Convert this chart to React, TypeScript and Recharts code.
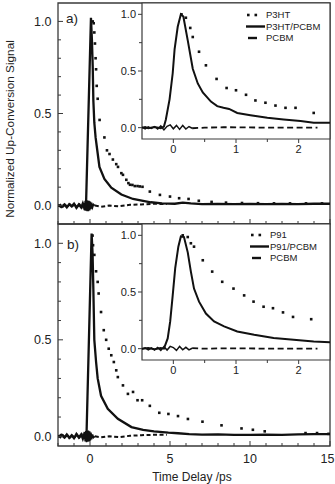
import React from 'react';
import { ComposedChart, Line, Scatter, XAxis, YAxis, ReferenceArea, CartesianGrid, Legend } from 'recharts';

type Pt = [number, number];

// ---- panel a): P3HT ----
const p3htMain: Pt[] = [
  [0.17, 1.0], [0.23, 0.99], [0.27, 0.94], [0.31, 0.88], [0.35, 0.8], [0.38, 0.74], [0.42, 0.65],
  [0.48, 0.58], [0.6, 0.465], [0.9, 0.37], [1.06, 0.3], [1.22, 0.28], [1.43, 0.25], [1.64, 0.225],
  [1.75, 0.21], [1.96, 0.176], [2.06, 0.167], [2.27, 0.14], [2.4, 0.122], [2.5, 0.113], [2.65, 0.112],
  [2.8, 0.106], [2.97, 0.106], [3.11, 0.104], [3.28, 0.102], [3.74, 0.076], [4.37, 0.058], [5.0, 0.049],
  [5.57, 0.04], [6.16, 0.036], [6.8, 0.026], [7.6, 0.02], [8.5, 0.016], [9.5, 0.014], [10.5, 0.013],
  [11.5, 0.012], [12.5, 0.012], [13.5, 0.012], [14.5, 0.012],
];
const p3htPcbmMain: Pt[] = [
  [-2, 0.004], [-1.8, -0.008], [-1.6, 0.006], [-1.45, -0.01], [-1.3, 0.008], [-1.15, -0.004], [-1.0, 0.01],
  [-0.85, -0.012], [-0.7, 0.006], [-0.55, -0.01], [-0.45, 0.012], [-0.35, -0.015], [-0.25, 0.0],
  [0.06, 1.02], [0.12, 0.9], [0.17, 0.755], [0.21, 0.57], [0.27, 0.45], [0.35, 0.37], [0.44, 0.31],
  [0.59, 0.21], [0.9, 0.145], [1.33, 0.097], [1.96, 0.06], [2.69, 0.036], [3.32, 0.026], [3.8, 0.018],
  [4.5, 0.012], [5.3, 0.01], [5.8, 0.016], [6.3, 0.012], [7, 0.008], [8, 0.009], [9, 0.008], [10, 0.009],
  [11, 0.008], [12, 0.009], [13, 0.008], [14, 0.01], [15, 0.01],
];
const pcbmMainA: Pt[] = [
  [-2, -0.004], [-1.85, 0.006], [-1.7, -0.008], [-1.55, 0.005], [-1.4, -0.006], [-1.25, 0.008], [-1.1, -0.005],
  [-0.95, 0.006], [-0.8, -0.009], [-0.65, 0.008], [-0.5, -0.01], [-0.4, 0.014], [-0.34, -0.022],
  [-0.3, 0.026], [-0.26, -0.028], [-0.22, 0.03], [-0.18, -0.03], [-0.14, 0.028], [-0.1, -0.03],
  [-0.06, 0.026], [-0.02, -0.026], [0.02, 0.022], [0.06, -0.02], [0.1, 0.016], [0.16, -0.01],
  [0.22, 0.006], [0.3, 0.0], [0.7, -0.006], [1.2, 0.0], [1.8, -0.004], [2.5, 0.004], [3.2, 0.006],
  [4.0, 0.01], [4.8, 0.008],
];
const p3htInset: Pt[] = [
  [0.13, 1.0], [0.2, 0.97], [0.27, 0.88], [0.31, 0.8], [0.41, 0.67], [0.52, 0.55], [0.69, 0.43],
  [0.85, 0.35], [1.0, 0.33], [1.16, 0.29], [1.31, 0.24], [1.47, 0.22], [1.63, 0.195], [1.79, 0.175],
  [1.95, 0.175], [2.24, 0.13],
];
const p3htPcbmInset: Pt[] = [
  [-0.5, 0.0], [-0.45, 0.005], [-0.4, -0.005], [-0.3, 0.005], [-0.2, -0.005], [-0.15, 0.01],
  [-0.12, 0.07], [-0.06, 0.25], [-0.01, 0.48], [0.02, 0.69], [0.07, 0.89], [0.12, 1.0], [0.16, 0.98],
  [0.23, 0.77], [0.31, 0.52], [0.39, 0.39], [0.47, 0.31], [0.6, 0.23], [0.7, 0.19], [0.8, 0.175],
  [0.89, 0.165], [1.02, 0.13], [1.23, 0.11], [1.5, 0.087], [1.76, 0.073], [2.03, 0.058], [2.24, 0.044],
  [2.5, 0.044],
];
const pcbmInsetA: Pt[] = [
  [-0.5, 0.005], [-0.45, -0.01], [-0.4, 0.008], [-0.35, -0.006], [-0.3, 0.01], [-0.25, -0.012],
  [-0.2, 0.015], [-0.15, -0.02], [-0.1, 0.012], [-0.05, 0.025], [0, -0.01], [0.05, 0.02], [0.1, -0.015],
  [0.15, 0.02], [0.2, -0.012], [0.25, 0.01], [0.3, -0.005], [0.5, 0.0], [0.8, 0.004], [1.2, 0.002],
  [1.6, 0.0], [2.0, 0.0], [2.3, 0.0],
];

// ---- panel b): P91 ----
const p91Main: Pt[] = [
  [0.16, 1.04], [0.19, 0.99], [0.27, 0.94], [0.38, 0.855], [0.48, 0.8], [0.54, 0.74], [0.69, 0.644],
  [0.86, 0.55], [1.01, 0.5], [1.17, 0.454], [1.33, 0.42], [1.49, 0.385], [1.64, 0.342], [1.74, 0.307],
  [2.06, 0.264], [2.37, 0.22], [2.69, 0.23], [2.97, 0.187], [3.26, 0.187], [3.74, 0.158], [4.33, 0.122],
  [4.9, 0.116], [5.5, 0.105], [6.12, 0.09], [7.03, 0.076], [8.22, 0.057], [9.47, 0.041], [10.18, 0.034],
  [10.92, 0.026], [13.47, 0.017], [14.19, 0.017], [14.91, 0.013],
];
const p91PcbmMain: Pt[] = [
  [-2, -0.004], [-1.8, 0.008], [-1.6, -0.006], [-1.45, 0.01], [-1.3, -0.008], [-1.15, 0.006], [-1.0, -0.01],
  [-0.85, 0.012], [-0.7, -0.006], [-0.55, 0.01], [-0.45, -0.012], [-0.35, 0.014], [-0.22, 0.0],
  [0.1, 1.05], [0.16, 0.95], [0.21, 0.76], [0.27, 0.5], [0.38, 0.385], [0.48, 0.3], [0.69, 0.21],
  [1.11, 0.143], [1.74, 0.091], [2.59, 0.048], [3.32, 0.033], [4.0, 0.026], [4.9, 0.019], [5.5, 0.016],
  [6.2, 0.012], [7, 0.009], [8, 0.01], [9, 0.008], [10, 0.008], [11, 0.009], [12, 0.008], [13, 0.01],
  [14, 0.011], [15, 0.012],
];
const pcbmMainB: Pt[] = [
  [-2, 0.005], [-1.85, -0.006], [-1.7, 0.008], [-1.55, -0.005], [-1.4, 0.006], [-1.25, -0.008], [-1.1, 0.005],
  [-0.95, -0.006], [-0.8, 0.009], [-0.65, -0.008], [-0.5, 0.01], [-0.4, -0.014], [-0.34, 0.022],
  [-0.3, -0.026], [-0.26, 0.028], [-0.22, -0.03], [-0.18, 0.03], [-0.14, -0.028], [-0.1, 0.03],
  [-0.06, -0.026], [-0.02, 0.026], [0.02, -0.022], [0.06, 0.02], [0.1, -0.016], [0.16, 0.01],
  [0.22, -0.006], [0.3, 0.0], [0.7, -0.005], [1.2, 0.0], [1.8, -0.004], [2.5, 0.003], [3.2, 0.006],
  [4.0, 0.008], [4.8, 0.008],
];
const p91Inset: Pt[] = [
  [0.15, 1.0], [0.23, 0.985], [0.28, 0.93], [0.33, 0.9], [0.47, 0.78], [0.62, 0.68], [0.78, 0.59],
  [0.96, 0.53], [1.13, 0.47], [1.28, 0.415], [1.44, 0.37], [1.59, 0.357], [1.75, 0.32], [1.91, 0.28],
  [2.2, 0.26],
];
const p91PcbmInset: Pt[] = [
  [-0.5, 0.0], [-0.4, 0.005], [-0.3, -0.005], [-0.2, 0.005], [-0.15, 0.0], [-0.09, 0.09], [-0.05, 0.24],
  [-0.01, 0.47], [0.03, 0.71], [0.08, 0.9], [0.12, 0.99], [0.17, 0.985], [0.23, 0.85], [0.28, 0.68],
  [0.33, 0.53], [0.41, 0.415], [0.52, 0.31], [0.65, 0.24], [0.81, 0.196], [1.02, 0.152], [1.29, 0.123],
  [1.6, 0.094], [1.92, 0.079], [2.24, 0.064], [2.5, 0.056],
];
const pcbmInsetB: Pt[] = [
  [-0.5, -0.004], [-0.45, 0.008], [-0.4, -0.01], [-0.35, 0.006], [-0.3, -0.012], [-0.25, 0.01],
  [-0.2, -0.015], [-0.15, 0.018], [-0.1, -0.012], [-0.05, 0.02], [0, 0.01], [0.05, -0.015], [0.1, 0.02],
  [0.15, -0.01], [0.2, 0.012], [0.25, -0.01], [0.3, 0.004], [0.5, 0.0], [0.8, 0.003], [1.2, 0.002],
  [1.6, 0.0], [2.0, 0.0], [2.3, 0.0],
];

// axis ticks
const mainTimeTicks = [-2, -1, 0, 1, 2, 3, 4, 5, 6, 7, 8, 9, 10, 11, 12, 13, 14, 15];
const mainTimeLabels = [0, 5, 10, 15];
const signalTicks = [0, 0.1, 0.2, 0.3, 0.4, 0.5, 0.6, 0.7, 0.8, 0.9, 1.0];
const signalLabels = [0, 0.5, 1.0];
const insetTimeTicks = [0, 0.5, 1, 1.5, 2];
const insetTimeLabels = [0, 1, 2];
const insetSignalTicks = [0, 0.25, 0.5, 0.75, 1.0];
const insetSignalLabels = [0, 0.5, 1.0];

const FONT = '"Liberation Sans", Arial, Helvetica, sans-serif';
const INK = '#111';
const FRAME = '#3a3a3a';
const TEXT = '#222';

const rows = (pts: Pt[]) => pts.map(([t, v]) => ({ t, v }));
const has = (list: number[], v: number) => list.some(l => Math.abs(l - v) < 1e-6);

type Side = 'left' | 'bottom' | 'top';

// tick drawer: inward = ticks point into the plot, labels stay outside
function tickFor(side: Side, labels: number[], inward: boolean, fontSize: number, fmt: (v: number) => string, showLabels = true) {
  return (p: any) => {
    const { x, y, payload } = p;
    const value = payload.value as number;
    const major = has(labels, value);
    const len = major ? (inward ? 5 : 4) : 3;
    if (side === 'left') {
      const dx = inward ? len : -len;
      return (
        <g>
          <line x1={x} x2={x + dx} y1={y} y2={y} stroke={FRAME} strokeWidth={1} />
          {major && showLabels && (
            <text x={x - (inward ? 6.5 : 6)} y={y} dy="0.36em" textAnchor="end" fontSize={fontSize} fontFamily={FONT} fill={TEXT}>
              {fmt(value)}
            </text>
          )}
        </g>
      );
    }
    if (side === 'bottom') {
      const dy = inward ? -len : len;
      // keep the last label inside the page edge
      const lastLabel = value === labels[labels.length - 1] && inward;
      return (
        <g>
          <line x1={x} x2={x} y1={y} y2={y + dy} stroke={FRAME} strokeWidth={1} />
          {major && showLabels && (
            <text x={lastLabel ? x + 4.5 : x} y={y + (inward ? 16.5 : 14)} textAnchor={lastLabel ? 'end' : 'middle'} fontSize={fontSize} fontFamily={FONT} fill={TEXT}>
              {fmt(value)}
            </text>
          )}
        </g>
      );
    }
    return <line x1={x} x2={x} y1={y} y2={y + len} stroke={FRAME} strokeWidth={1} />;
  };
}

const square = (p: any) => <rect x={p.cx - 1.3} y={p.cy - 1.3} width={2.6} height={2.6} fill={INK} />;

interface MainProps {
  top: number;
  height: number;
  marginTop: number;
  axisHeight: number;
  yDomain: [number, number];
  dots: Pt[];
  solid: Pt[];
  pcbm: Pt[];
  timeLabels: boolean;
  mirrorTop: boolean;
}

function MainPanel({ top, height, marginTop, axisHeight, yDomain, dots, solid, pcbm, timeLabels, mirrorTop }: MainProps) {
  const noise = rows(pcbm.filter(([t]) => t <= 0.3));
  const dashed = rows(pcbm.filter(([t]) => t >= 0.3));
  return (
    <div style={{ position: 'absolute', left: 0, top }}>
      <ComposedChart width={335} height={height} margin={{ top: marginTop, right: 5, bottom: 0, left: 0 }}>
        <XAxis
          type="number" dataKey="t" domain={[-2, 15]} ticks={mainTimeTicks} interval={0} allowDataOverflow
          axisLine={false} tickLine={false} tickSize={0} tickMargin={0} height={axisHeight}
          tick={tickFor('bottom', mainTimeLabels, true, 12.5, v => String(v), timeLabels)}
        />
        {mirrorTop && (
          <XAxis
            xAxisId="top" orientation="top" type="number" domain={[-2, 15]} ticks={mainTimeTicks} interval={0}
            allowDataOverflow axisLine={false} tickLine={false} tickSize={0} tickMargin={0} height={0}
            tick={tickFor('top', mainTimeLabels, true, 12.5, v => String(v))}
          />
        )}
        <YAxis
          type="number" domain={yDomain} ticks={signalTicks} interval={0} allowDataOverflow
          axisLine={false} tickLine={false} tickSize={0} tickMargin={0} width={58}
          tick={tickFor('left', signalLabels, true, 12.5, v => v.toFixed(1))}
        />
        <Line data={noise} dataKey="v" type="linear" dot={false} stroke={INK} strokeWidth={1.6} isAnimationActive={false} />
        <Line data={dashed} dataKey="v" type="linear" dot={false} stroke={INK} strokeWidth={2} strokeDasharray="4 2.5" isAnimationActive={false} />
        <Line data={rows(solid)} dataKey="v" type="linear" dot={false} stroke={INK} strokeWidth={2.3} isAnimationActive={false} />
        <Scatter data={rows(dots)} dataKey="v" shape={square} isAnimationActive={false} />
        <ReferenceArea x1={-2} x2={15} y1={yDomain[0]} y2={yDomain[1]} fill="none" stroke={FRAME} strokeWidth={1.3} ifOverflow="visible" />
      </ComposedChart>
    </div>
  );
}

function InsetKey({ names }: { names: string[] }) {
  return (
    <svg width={90} height={40} style={{ display: 'block', overflow: 'visible' }}>
      {names.map((name, i) => {
        const y = 6 + i * 11.5;
        return (
          <g key={name}>
            {i === 0 && (
              <>
                <rect x={1} y={y - 1.3} width={2.6} height={2.6} fill={INK} />
                <rect x={8.5} y={y - 1.3} width={2.6} height={2.6} fill={INK} />
              </>
            )}
            {i === 1 && <line x1={0} x2={19} y1={y} y2={y} stroke={INK} strokeWidth={2.4} />}
            {i === 2 && <line x1={2} x2={11} y1={y} y2={y} stroke={INK} strokeWidth={2.4} />}
            <text x={20} y={y} dy="0.36em" fontSize={9.5} fontFamily={FONT} fill={TEXT}>{name}</text>
          </g>
        );
      })}
    </svg>
  );
}

interface InsetProps {
  top: number;
  dots: Pt[];
  solid: Pt[];
  pcbm: Pt[];
  names: string[];
  keyLeft: number;
  keyTop: number;
}

function InsetPanel({ top, dots, solid, pcbm, names, keyLeft, keyTop }: InsetProps) {
  const noise = rows(pcbm.filter(([t]) => t <= 0.3));
  const dashed = rows(pcbm.filter(([t]) => t >= 0.3));
  return (
    <div style={{ position: 'absolute', left: 112, top }}>
      <ComposedChart width={222} height={157} margin={{ top: 3, right: 4, bottom: 0, left: 0 }}>
        <CartesianGrid fill="#fff" horizontal={false} vertical={false} />
        <XAxis
          type="number" dataKey="t" domain={[-0.5, 2.5]} ticks={insetTimeTicks} interval={0} allowDataOverflow
          axisLine={false} tickLine={false} tickSize={0} tickMargin={0} height={18}
          tick={tickFor('bottom', insetTimeLabels, false, 11, v => String(v))}
        />
        <YAxis
          type="number" domain={[-0.1, 1.1]} ticks={insetSignalTicks} interval={0} allowDataOverflow
          axisLine={false} tickLine={false} tickSize={0} tickMargin={0} width={30}
          tick={tickFor('left', insetSignalLabels, false, 11, v => v.toFixed(1))}
        />
        <Line data={noise} dataKey="v" type="linear" dot={false} stroke={INK} strokeWidth={1.5} isAnimationActive={false} />
        <Line data={dashed} dataKey="v" type="linear" dot={false} stroke={INK} strokeWidth={1.8} strokeDasharray="6 3.5" isAnimationActive={false} />
        <Line data={rows(solid)} dataKey="v" type="linear" dot={false} stroke={INK} strokeWidth={2} isAnimationActive={false} />
        <Scatter data={rows(dots)} dataKey="v" shape={square} isAnimationActive={false} />
        <ReferenceArea x1={-0.5} x2={2.5} y1={-0.1} y2={1.1} fill="none" stroke={FRAME} strokeWidth={1.2} ifOverflow="visible" />
        <Legend
          layout="vertical" align="center" verticalAlign="middle"
          wrapperStyle={{ left: keyLeft, top: keyTop, width: 90, height: 40 }}
          content={() => <InsetKey names={names} />}
        />
      </ComposedChart>
    </div>
  );
}

export default function App() {
  return (
    <div style={{ position: 'absolute', left: 0, top: 0, width: 335, height: 484, background: '#fff' }}>
      <MainPanel
        top={0} height={230} marginTop={3} axisHeight={6} yDomain={[-0.1, 1.1]}
        dots={p3htMain} solid={p3htPcbmMain} pcbm={pcbmMainA} timeLabels={false} mirrorTop={false}
      />
      <MainPanel
        top={0} height={484} marginTop={224} axisHeight={38} yDomain={[-0.05, 1.1]}
        dots={p91Main} solid={p91PcbmMain} pcbm={pcbmMainB} timeLabels mirrorTop
      />
      <InsetPanel top={0} dots={p3htInset} solid={p3htPcbmInset} pcbm={pcbmInsetA} names={['P3HT', 'P3HT/PCBM', 'PCBM']} keyLeft={134} keyTop={9} />
      <InsetPanel top={221} dots={p91Inset} solid={p91PcbmInset} pcbm={pcbmInsetB} names={['P91', 'P91/PCBM', 'PCBM']} keyLeft={138} keyTop={8} />
      <svg width={335} height={484} style={{ position: 'absolute', left: 0, top: 0, pointerEvents: 'none' }}>
        <text transform="translate(14, 129) rotate(-90)" textAnchor="middle" fontSize={11.8} fontFamily={FONT} fill={TEXT}>
          Normalized Up-Conversion Signal
        </text>
        <text x={192} y={481} textAnchor="middle" fontSize={12} fontFamily={FONT} fill={TEXT}>Time Delay /ps</text>
        <text x={66} y={22.5} fontSize={13.5} fontFamily={FONT} fill={TEXT}>a)</text>
        <text x={67} y={249} fontSize={13.5} fontFamily={FONT} fill={TEXT}>b)</text>
      </svg>
    </div>
  );
}
